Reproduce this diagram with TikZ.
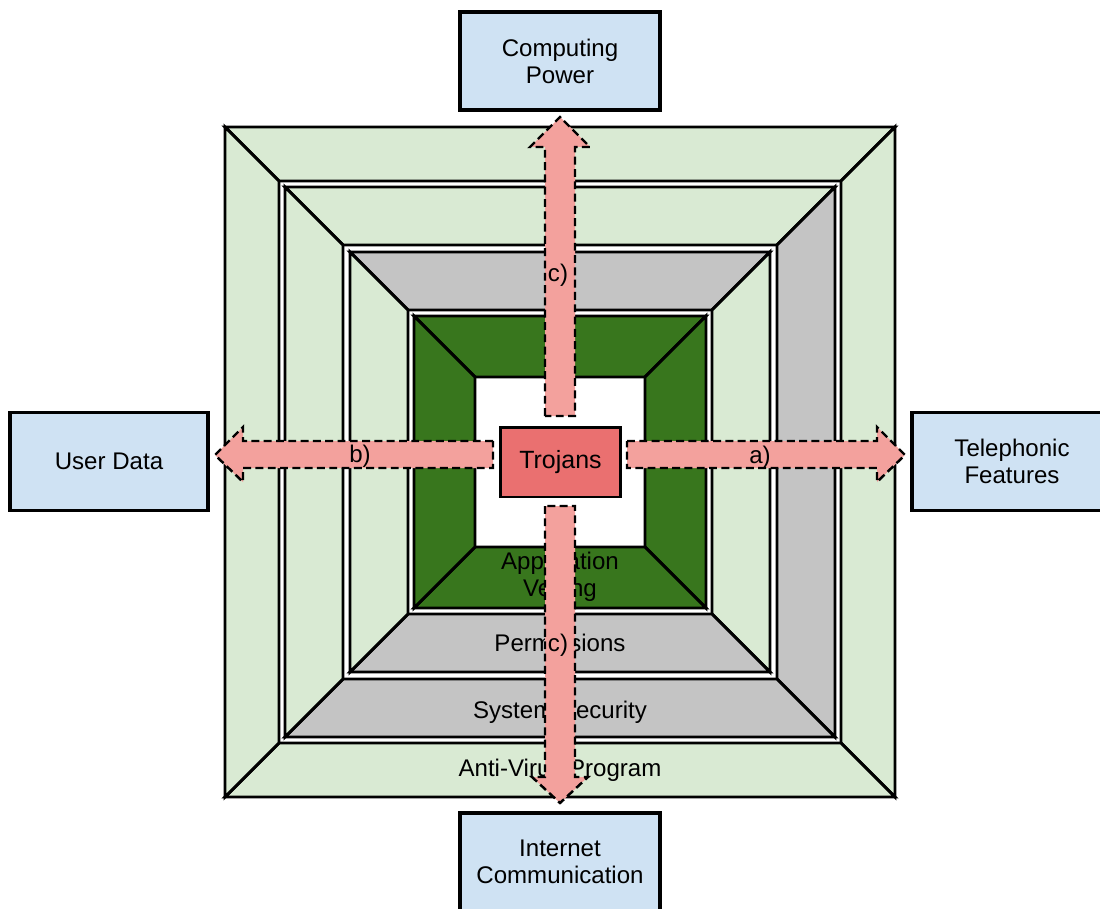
\documentclass[tikz,border=0pt]{standalone}
\usepackage{fontspec}
\setmainfont{Liberation Sans}

\definecolor{palegreen}{HTML}{D9EAD3}
\definecolor{midgray}{HTML}{C4C4C4}
\definecolor{deepgreen}{HTML}{38761D}
\definecolor{paleblue}{HTML}{CFE2F3}
\definecolor{trojanred}{HTML}{EA7070}
\definecolor{arrowred}{HTML}{F3A19D}

\tikzset{
  band/.style={draw=black, line width=1.7pt},
  target/.style={draw=black, fill=paleblue, line width=1.9pt, minimum width=4cm,
    minimum height=1.96cm, align=center, font=\fontsize{13.7}{15.4}\selectfont},
  fatarrow/.style={fill=arrowred, draw=black, line width=1.4pt, dash pattern=on 4.5pt off 2.5pt},
  bandlabel/.style={align=center, font=\fontsize{13.7}{15.4}\selectfont},
}

\begin{document}
\begin{tikzpicture}[x=0.02cm, y=-0.02cm]
\useasboundingbox (0,0) rectangle (1100,909);

% Anti-Virus frame
\filldraw[band, fill=palegreen] (225,127) -- (895,127) -- (841,181) -- (279,181) -- cycle;
\filldraw[band, fill=palegreen] (895,127) -- (895,797) -- (841,743) -- (841,181) -- cycle;
\filldraw[band, fill=palegreen] (895,797) -- (225,797) -- (279,743) -- (841,743) -- cycle;
\filldraw[band, fill=palegreen] (225,797) -- (225,127) -- (279,181) -- (279,743) -- cycle;

% System security frame
\filldraw[band, fill=palegreen] (285,187) -- (835,187) -- (777,245) -- (343,245) -- cycle;
\filldraw[band, fill=midgray] (835,187) -- (835,737) -- (777,679) -- (777,245) -- cycle;
\filldraw[band, fill=midgray] (835,737) -- (285,737) -- (343,679) -- (777,679) -- cycle;
\filldraw[band, fill=palegreen] (285,737) -- (285,187) -- (343,245) -- (343,679) -- cycle;

% Permissions frame
\filldraw[band, fill=midgray] (350,252) -- (770,252) -- (712,310) -- (408,310) -- cycle;
\filldraw[band, fill=palegreen] (770,252) -- (770,672) -- (712,614) -- (712,310) -- cycle;
\filldraw[band, fill=midgray] (770,672) -- (350,672) -- (408,614) -- (712,614) -- cycle;
\filldraw[band, fill=palegreen] (350,672) -- (350,252) -- (408,310) -- (408,614) -- cycle;

% Vetting frame
\filldraw[band, fill=deepgreen] (414,316) -- (706,316) -- (645,377) -- (475,377) -- cycle;
\filldraw[band, fill=deepgreen] (706,316) -- (706,608) -- (645,547) -- (645,377) -- cycle;
\filldraw[band, fill=deepgreen] (706,608) -- (414,608) -- (475,547) -- (645,547) -- cycle;
\filldraw[band, fill=deepgreen] (414,608) -- (414,316) -- (475,377) -- (475,547) -- cycle;

% Frame labels
\node[bandlabel] (antivirus) at (560,770) {Anti-Virus Program};
\node[bandlabel] (syssec) at (560,712) {System Security};
\node[bandlabel] (perms) at (560,643) {Permissions};
\node[bandlabel] (vetting) at (560,577) {Application\\Vetting};

% Attack arrows
\filldraw[fatarrow] (545,416) -- (545,147) -- (530,147) -- (560,117) -- (590,147) -- (575,147) -- (575,416) -- cycle;
\filldraw[fatarrow] (545,506) -- (545,777) -- (532,777) -- (560,803) -- (588,777) -- (575,777) -- (575,506) -- cycle;
\filldraw[fatarrow] (493,441) -- (243,441) -- (243,427) -- (215,455) -- (243,482) -- (243,468) -- (493,468) -- cycle;
\filldraw[fatarrow] (627,441) -- (877,441) -- (877,427) -- (905,455) -- (877,482) -- (877,468) -- (627,468) -- cycle;

% Arrow labels
\node[bandlabel] (labc) at (558,275) {c)};
\node[bandlabel] (labb) at (360,456) {b)};
\node[bandlabel] (laba) at (760,457) {a)};
\node[bandlabel] (labcc) at (558,645) {c)};

% Targets
\node[target] (compute) at (560,61) {Computing\\Power};
\node[target, minimum width=3.96cm] (userdata) at (109,461.5) {User Data};
\node[target] (telephony) at (1012,461.5) {Telephonic\\Features};
\node[target] (internet) at (560,862) {Internet\\Communication};

% Trojans
\node[draw=black, fill=trojanred, line width=1.7pt, minimum width=2.42cm, minimum height=1.4cm,
  font=\fontsize{14.2}{16}\selectfont] (trojans) at (560.5,462) {Trojans};
\end{tikzpicture}
\end{document}
